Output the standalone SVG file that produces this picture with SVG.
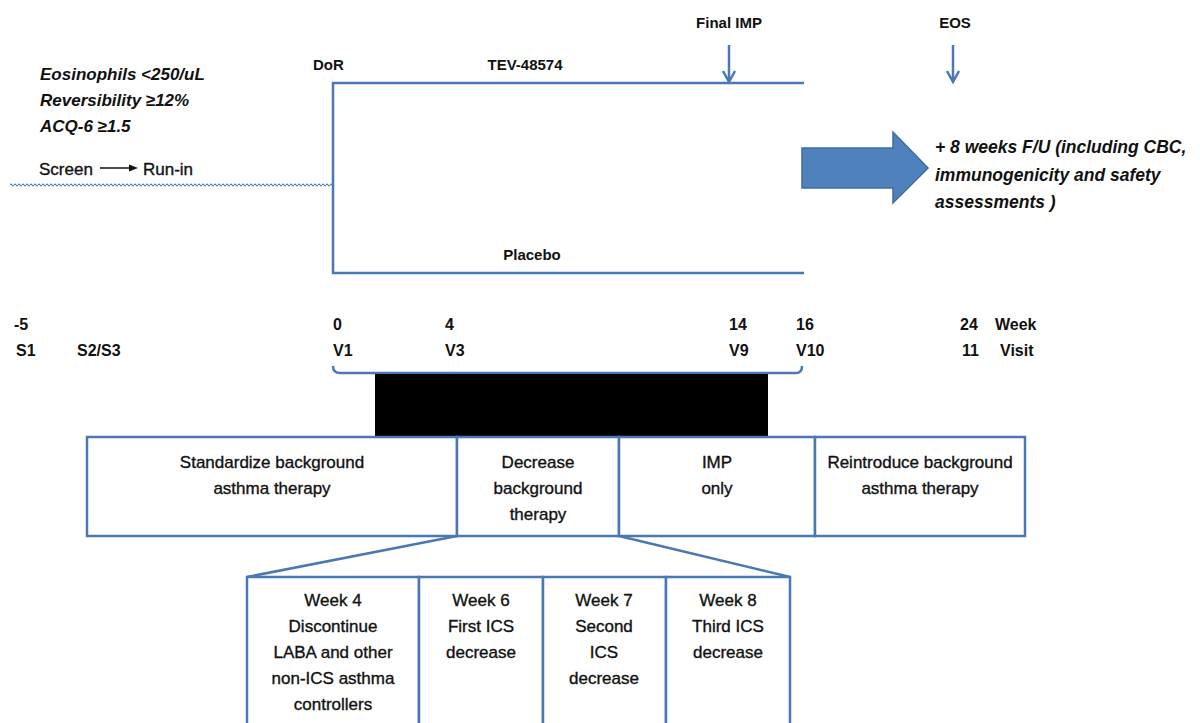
<svg xmlns="http://www.w3.org/2000/svg" width="1200" height="723" viewBox="0 0 1200 723">
<style>
.t{font-family:"Liberation Sans",Arial,sans-serif;fill:#111}
.b{font-weight:bold}
.i{font-style:italic;font-weight:bold}
.m{text-anchor:middle}
.box{font-size:17px;stroke:#111;stroke-width:0.35}
.ln{stroke:#4a78b2;stroke-width:2.5;fill:none}
.bx{stroke:#4a78b2;stroke-width:2.5;fill:#fff}
</style>
<defs>
<pattern id="wave" x="10" y="183" width="4" height="4" patternUnits="userSpaceOnUse">
<path d="M0,2 Q1,0.4 2,2 T4,2" stroke="#4f7fbe" stroke-width="1.3" fill="none"/>
</pattern>
</defs>
<rect width="1200" height="723" fill="#fff"/>

<g id="criteria" class="t i" font-size="17">
<text x="40" y="80">Eosinophils &lt;250/uL</text>
<text x="40" y="106">Reversibility ≥12%</text>
<text x="40" y="132">ACQ-6 ≥1.5</text>
</g>

<g id="screen-runin" class="t" font-size="17" stroke="#111" stroke-width="0.35">
<text x="39" y="175">Screen</text>
<text x="143" y="175">Run-in</text>
</g>

<g id="connectors">
<line x1="100" y1="168" x2="130" y2="168" stroke="#111" stroke-width="1.5"/>
<path d="M138,168 L129,164.5 L129,171.5 Z" fill="#111"/>
<rect x="10" y="183" width="323" height="4" fill="url(#wave)"/>
<path class="ln" d="M804,83 H333 V273 H804"/>
<path class="ln" d="M729,45 V82 M723,71 L729,82 L735,71"/>
<path class="ln" d="M953,45 V82 M947,71 L953,82 L959,71"/>
<path class="ln" d="M333,366 Q333,373 340,373 H796 Q802,373 802,366"/>
<path class="ln" d="M457,536 L247,577 M619,536 L790,577"/>
</g>

<g id="arm-labels" class="t b" font-size="15">
<text x="313" y="70">DoR</text>
<text x="525" y="70" class="m">TEV-48574</text>
<text x="729" y="28" class="m">Final IMP</text>
<text x="955" y="28" class="m">EOS</text>
<text x="532" y="260" class="m">Placebo</text>
</g>

<g id="followup-arrow">
<path d="M802,148 H893 V132 L928,168 L893,203 V188 H802 Z" fill="#4f81bd" stroke="#3d6ca6" stroke-width="1.5"/>
</g>
<g id="followup-text" class="t i" font-size="17.5">
<text x="935" y="153">+ 8 weeks F/U (including CBC,</text>
<text x="935" y="181">immunogenicity  and safety</text>
<text x="935" y="208">assessments )</text>
</g>

<g id="timeline" class="t b" font-size="16">
<text x="14" y="330">-5</text>
<text x="16" y="356">S1</text>
<text x="77" y="356">S2/S3</text>
<text x="333" y="330">0</text>
<text x="333" y="356">V1</text>
<text x="445" y="330">4</text>
<text x="445" y="356">V3</text>
<text x="729" y="330">14</text>
<text x="729" y="356">V9</text>
<text x="796" y="330">16</text>
<text x="796" y="356">V10</text>
<text x="960" y="330">24</text>
<text x="995" y="330">Week</text>
<text x="962" y="356">11</text>
<text x="1000" y="356">Visit</text>
</g>

<rect id="redaction" x="375" y="374" width="393" height="62" fill="#000"/>

<g id="phase-standardize">
<rect class="bx" x="87" y="437" width="370" height="99"/>
<text class="t box m" x="272" y="468">Standardize background</text>
<text class="t box m" x="272" y="494">asthma therapy</text>
</g>
<g id="phase-decrease">
<rect class="bx" x="457" y="437" width="162" height="99"/>
<text class="t box m" x="538" y="468">Decrease</text>
<text class="t box m" x="538" y="494">background</text>
<text class="t box m" x="538" y="520">therapy</text>
</g>
<g id="phase-imp">
<rect class="bx" x="619" y="437" width="196" height="99"/>
<text class="t box m" x="717" y="468">IMP</text>
<text class="t box m" x="717" y="494">only</text>
</g>
<g id="phase-reintroduce">
<rect class="bx" x="815" y="437" width="210" height="99"/>
<text class="t box m" x="920" y="468">Reintroduce background</text>
<text class="t box m" x="920" y="494">asthma therapy</text>
</g>

<g id="step-week4">
<rect class="bx" x="247" y="577" width="172" height="160"/>
<text class="t box m" x="333" y="606">Week 4</text>
<text class="t box m" x="333" y="632">Discontinue</text>
<text class="t box m" x="333" y="658">LABA and other</text>
<text class="t box m" x="333" y="684">non-ICS asthma</text>
<text class="t box m" x="333" y="710">controllers</text>
</g>
<g id="step-week6">
<rect class="bx" x="419" y="577" width="124" height="160"/>
<text class="t box m" x="481" y="606">Week 6</text>
<text class="t box m" x="481" y="632">First ICS</text>
<text class="t box m" x="481" y="658">decrease</text>
</g>
<g id="step-week7">
<rect class="bx" x="543" y="577" width="123" height="160"/>
<text class="t box m" x="604" y="606">Week 7</text>
<text class="t box m" x="604" y="632">Second</text>
<text class="t box m" x="604" y="658">ICS</text>
<text class="t box m" x="604" y="684">decrease</text>
</g>
<g id="step-week8">
<rect class="bx" x="666" y="577" width="124" height="160"/>
<text class="t box m" x="728" y="606">Week 8</text>
<text class="t box m" x="728" y="632">Third ICS</text>
<text class="t box m" x="728" y="658">decrease</text>
</g>
</svg>
